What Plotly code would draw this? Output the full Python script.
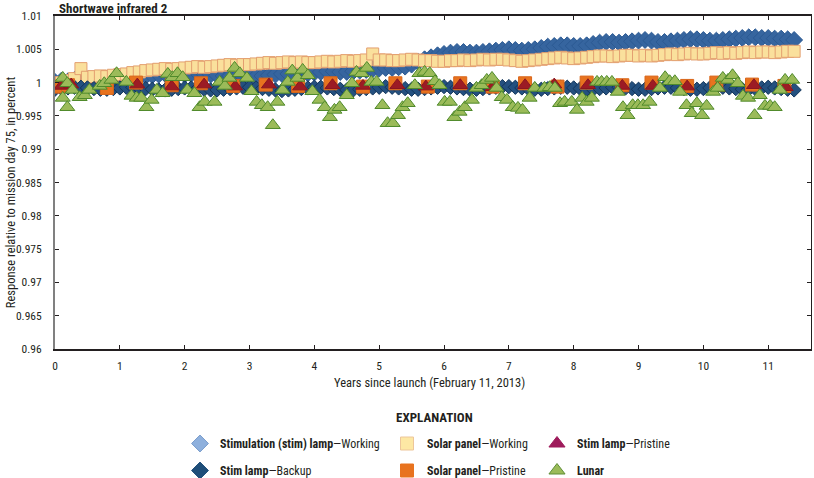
import plotly.graph_objects as go

FONT = "Liberation Sans Narrow, Arial Narrow, Roboto Condensed, Roboto, sans-serif"
INK = "#231F20"

# ---------------- data ----------------
dense_years = [round(i * 0.1, 1) for i in range(115)]  # sample times, 0.0 .. 11.4

stim_working = [
    1.0001, 1.0003, 1.0002, 1.0004, 1.0003, 1.0005, 1.0004, 1.0006, 1.0005, 1.0007,
    1.0006, 1.0008, 1.0007, 1.0009, 1.0010, 1.0011, 1.0012, 1.0013, 1.0012, 1.0013,
    1.0012, 1.0013, 1.0014, 1.0013, 1.0012, 1.0011, 1.0010, 1.0010, 1.0009, 1.0009,
    1.0008, 1.0009, 1.0010, 1.0011, 1.0012, 1.0013, 1.0013, 1.0012, 1.0013, 1.0014,
    1.0015, 1.0016, 1.0017, 1.0017, 1.0016, 1.0016, 1.0017, 1.0018, 1.0019, 1.0020,
    1.0021, 1.0022, 1.0022, 1.0023, 1.0024, 1.0027, 1.0031, 1.0035, 1.0038, 1.0041,
    1.0043, 1.0045, 1.0046, 1.0046, 1.0045, 1.0045, 1.0046, 1.0047, 1.0048, 1.0049,
    1.0050, 1.0049, 1.0048, 1.0049, 1.0050, 1.0052, 1.0054, 1.0055, 1.0056, 1.0056,
    1.0055, 1.0055, 1.0056, 1.0058, 1.0060, 1.0061, 1.0061, 1.0060, 1.0061, 1.0062,
    1.0063, 1.0064, 1.0063, 1.0061, 1.0061, 1.0062, 1.0063, 1.0064, 1.0065, 1.0065,
    1.0064, 1.0063, 1.0063, 1.0064, 1.0065, 1.0066, 1.0067, 1.0068, 1.0068, 1.0067,
    1.0067, 1.0066, 1.0066, 1.0065, 1.0064,
]

solar_working = [
    0.9998, 1.0000, 1.0003, 1.0006, 1.0021, 1.0008, 1.0009, 1.0010, 1.0009, 1.0011,
    1.0012, 1.0013, 1.0015, 1.0016, 1.0018, 1.0019, 1.0020, 1.0021, 1.0020, 1.0021,
    1.0022, 1.0023, 1.0024, 1.0023, 1.0024, 1.0025, 1.0026, 1.0027, 1.0026, 1.0027,
    1.0027, 1.0028, 1.0029, 1.0030, 1.0029, 1.0030, 1.0031, 1.0030, 1.0031, 1.0030,
    1.0030, 1.0031, 1.0032, 1.0031, 1.0032, 1.0033, 1.0032, 1.0033, 1.0034, 1.0043,
    1.0034, 1.0034, 1.0033, 1.0033, 1.0034, 1.0035, 1.0034, 1.0033, 1.0033, 1.0032,
    1.0032, 1.0033, 1.0033, 1.0034, 1.0033, 1.0034, 1.0035, 1.0034, 1.0035, 1.0035,
    1.0034, 1.0033, 1.0032, 1.0033, 1.0034, 1.0035, 1.0036, 1.0037, 1.0038, 1.0037,
    1.0036, 1.0037, 1.0038, 1.0039, 1.0040, 1.0040, 1.0039, 1.0040, 1.0041, 1.0041,
    1.0040, 1.0041, 1.0040, 1.0041, 1.0042, 1.0043, 1.0042, 1.0043, 1.0044, 1.0043,
    1.0043, 1.0044, 1.0045, 1.0044, 1.0045, 1.0044, 1.0045, 1.0046, 1.0045, 1.0046,
    1.0046, 1.0045, 1.0046, 1.0047, 1.0047,
]

stim_backup = [
    0.9990, 0.9991, 0.9992, 0.9993, 0.9993, 0.9992, 0.9991, 0.9990, 0.9990, 0.9991,
    0.9992, 0.9993, 0.9993, 0.9992, 0.9991, 0.9990, 0.9989, 0.9989, 0.9990, 0.9991,
    0.9992, 0.9992, 0.9991, 0.9990, 0.9989, 0.9989, 0.9990, 0.9991, 0.9992, 0.9993,
    0.9993, 0.9992, 0.9991, 0.9990, 0.9989, 0.9988, 0.9989, 0.9990, 0.9991, 0.9992,
    0.9993, 0.9993, 0.9992, 0.9991, 0.9990, 0.9989, 0.9989, 0.9990, 0.9991, 0.9992,
    0.9993, 0.9994, 0.9993, 0.9992, 0.9991, 0.9990, 0.9990, 0.9991, 0.9992, 0.9993,
    0.9994, 0.9993, 0.9992, 0.9991, 0.9990, 0.9990, 0.9991, 0.9992, 0.9993, 0.9994,
    0.9994, 0.9993, 0.9992, 0.9991, 0.9990, 0.9990, 0.9991, 0.9992, 0.9993, 0.9993,
    0.9992, 0.9991, 0.9990, 0.9990, 0.9991, 0.9992, 0.9993, 0.9993, 0.9992, 0.9991,
    0.9990, 0.9990, 0.9991, 0.9992, 0.9993, 0.9993, 0.9992, 0.9991, 0.9990, 0.9990,
    0.9991, 0.9992, 0.9993, 0.9993, 0.9992, 0.9991, 0.9990, 0.9990, 0.9991, 0.9992,
    0.9993, 0.9992, 0.9991, 0.9990, 0.9989,
]

solar_pristine_years = [0.05, 0.2, 0.8, 1.25, 1.8, 2.25, 2.75, 3.25, 3.75, 4.25, 4.75, 5.25,
                        5.75, 6.25, 6.75, 7.25, 7.75, 8.2, 8.75, 9.2, 9.75, 10.2, 10.75, 11.25]
solar_pristine = [0.9994, 0.9996, 0.9992, 1.0000, 0.9996, 0.9999, 0.9995, 0.9997, 0.9995, 0.9999,
                  0.9994, 0.9999, 0.9994, 0.9999, 0.9994, 0.9999, 0.9994, 1.0000, 0.9996, 1.0000,
                  0.9995, 1.0000, 0.9997, 0.9995]

stim_pristine_years = [0.1, 0.25, 1.27, 1.8, 2.3, 2.78, 3.3, 3.78, 4.28, 4.75, 5.28, 5.72,
                       6.25, 6.75, 7.25, 7.7, 8.22, 8.75, 9.22, 9.75, 10.22, 10.78, 11.27]
stim_pristine = [0.9995, 0.9997, 0.9997, 0.9994, 0.9997, 0.9994, 0.9997, 0.9994, 0.9996, 0.9995,
                 0.9996, 0.9994, 0.9996, 0.9993, 0.9996, 0.9997, 0.9996, 0.9995, 0.9995, 0.9994,
                 0.9992, 0.9996, 0.9993]

lunar_years = [
    0.12, 0.19, 0.12, 0.19, 0.27, 0.38, 0.46, 0.53, 0.69, 0.76, 0.87, 0.95, 1.10, 1.18, 1.26,
    1.33, 1.41, 1.49, 1.57, 1.66, 1.74, 1.81, 1.89, 1.97, 2.04, 2.15, 2.23, 2.31, 2.46, 2.54,
    2.62, 2.69, 2.77, 2.85, 2.96, 3.03, 3.11, 3.19, 3.28, 3.36, 3.43, 3.51, 3.59, 3.66,
    3.74, 3.82, 3.90, 3.97, 4.08, 4.16, 4.24, 4.31, 4.39, 4.50, 4.58, 4.65, 4.73, 4.81, 4.88,
    4.96, 5.05, 5.13, 5.21, 5.29, 5.36, 5.44, 5.55, 5.62, 5.70, 5.78, 5.86, 5.93, 6.01, 6.09,
    6.16, 6.24, 6.32, 6.43, 6.50, 6.58, 6.66, 6.74, 6.81, 6.89, 6.97, 7.06, 7.14, 7.21, 7.32, 7.40,
    7.55, 7.63, 7.71, 7.79, 7.86, 7.97, 8.05, 8.13, 8.20, 8.28, 8.36, 8.43, 8.51, 8.59, 8.68,
    8.76, 8.83, 8.91, 8.99, 9.07, 9.17, 9.33, 9.41, 9.48, 9.56, 9.64, 9.74, 9.82, 9.90, 9.98,
    10.05, 10.15, 10.22, 10.30, 10.38, 10.45, 10.53, 10.61, 10.69, 10.79, 10.87, 10.95, 11.03,
    11.10, 11.18, 11.26, 11.37,
]
lunar = [
    1.0007, 0.9999, 0.9977, 0.9963, 0.9989, 0.9978, 0.9981, 0.9989, 0.9995, 0.9999, 1.0004, 1.0014, 1.0001, 0.9980, 0.9977,
    0.9977, 0.9963, 0.9974, 0.9989, 0.9984, 1.0013, 1.0008, 1.0014, 1.0008, 0.9989, 0.9984, 0.9963, 0.9971, 0.9971, 1.0001,
    0.9995, 1.0007, 1.0022, 1.0014, 1.0007, 0.9987, 0.9971, 0.9966, 0.9963, 0.9936, 0.9971, 0.9989, 1.0001, 1.0018,
    1.0007, 1.0019, 1.0011, 0.9987, 0.9974, 0.9963, 0.9948, 0.9959, 0.9963, 0.9981, 0.9999, 1.0016, 1.0014, 1.0022, 1.0001,
    1.0001, 0.9966, 0.9939, 0.9939, 0.9951, 0.9963, 0.9969, 0.9996, 1.0014, 1.0016, 1.0014, 1.0002, 0.9996, 0.9971, 0.9971,
    0.9948, 0.9956, 0.9963, 0.9974, 0.9992, 0.9996, 1.0004, 1.0007, 0.9992, 0.9978, 0.9974, 0.9963, 0.9962, 0.9959, 0.9977, 0.9992,
    0.9992, 0.9993, 0.9992, 0.9969, 0.9971, 0.9971, 0.9959, 0.9977, 0.9971, 0.9977, 1.0001, 1.0001, 1.0001, 1.0001, 0.9986,
    0.9963, 0.9951, 0.9966, 0.9966, 0.9966, 0.9971, 0.9992, 1.0008, 1.0002, 1.0002, 0.9986, 0.9966, 0.9954, 0.9969, 0.9951,
    0.9965, 0.9986, 0.9992, 1.0007, 1.0004, 1.0011, 0.9999, 0.9980, 0.9977, 0.9951, 0.9981, 0.9965, 0.9965,
    0.9963, 0.9989, 1.0004, 1.0004,
]

x_tick_vals = [0, 1, 2, 3, 4, 5, 6, 7, 8, 9, 10, 11]
y_tick_vals = [0.96, 0.965, 0.97, 0.975, 0.98, 0.985, 0.99, 0.995, 1.0, 1.005, 1.01]
y_tick_text = ["0.96", "0.965", "0.97", "0.975", "0.98", "0.985", "0.99", "0.995", "1", "1.005", "1.01"]

legend_names = {
    "sw": "<b>Stimulation (stim) lamp</b>—Working",
    "sb": "<b>Stim lamp</b>—Backup",
    "pw": "<b>Solar panel</b>—Working",
    "pp": "<b>Solar panel</b>—Pristine",
    "sp": "<b>Stim lamp</b>—Pristine",
    "lu": "<b>Lunar</b>",
}

# ---------------- figure ----------------
fig = go.Figure()

def data_trace(x, y, symbol, size, fill, edge, width=1):
    fig.add_trace(go.Scatter(
        x=x, y=y, mode="markers", showlegend=False, hoverinfo="skip",
        marker=dict(symbol=symbol, size=size, color=fill, line=dict(color=edge, width=width)),
    ))

data_trace(dense_years, stim_working, "diamond", 13, "#36659F", "#2C5A93")
data_trace(dense_years, solar_working, "square", 12, "#FAE09C", "#E39F70")
data_trace(dense_years, stim_backup, "diamond", 11, "#24507F", "#12355A")
data_trace(solar_pristine_years, solar_pristine, "square", 13, "#E8731F", "#D9661A")
data_trace(stim_pristine_years, stim_pristine, "triangle-up", 13, "#9C1B24", "#8A1620")
data_trace(lunar_years, lunar, "triangle-up", 13, "#9BBB59", "#4F8A2B")

def legend_trace(key, symbol, size, fill, edge, legend):
    fig.add_trace(go.Scatter(
        x=[None], y=[None], mode="markers", name=legend_names[key], legend=legend,
        legendgroup=key, hoverinfo="skip",
        marker=dict(symbol=symbol, size=size, color=fill, line=dict(color=edge, width=1)),
    ))

legend_trace("sw", "diamond", 13, "#8EB0DD", "#7A9DCC", "legend")
legend_trace("sb", "diamond", 13, "#1F4E79", "#1F4E79", "legend")
legend_trace("pw", "square", 13, "#FDE8A4", "#EDC69A", "legend2")
legend_trace("pp", "square", 13, "#E8731F", "#E8731F", "legend2")
legend_trace("sp", "triangle-up", 14, "#9E1B5B", "#9E1B5B", "legend3")
legend_trace("lu", "triangle-up", 14, "#9BBB59", "#5E8E36", "legend3")

# trace carrying the right-hand mirror axis
fig.add_trace(go.Scatter(x=[0, 1], y=[0.98, 0.98], yaxis="y2", mode="markers", showlegend=False,
                         hoverinfo="skip", marker=dict(opacity=0)))

leg_common = dict(
    xref="container", yref="container", xanchor="left", yanchor="top",
    orientation="v", bgcolor="rgba(0,0,0,0)", tracegroupgap=8,
    font=dict(family=FONT, size=12, color=INK), itemwidth=30,
)
fig.update_layout(
    legend=dict(x=180 / 814, y=1 - 429 / 478, **leg_common),
    legend2=dict(x=387 / 814, y=1 - 429 / 478, **leg_common),
    legend3=dict(x=537 / 814, y=1 - 429 / 478, **leg_common),
)

fig.update_layout(
    width=814, height=478,
    margin=dict(l=55, r=3, t=16, b=129, autoexpand=False),
    paper_bgcolor="white", plot_bgcolor="white",
    font=dict(family=FONT, size=11, color=INK),
    xaxis=dict(
        range=[0, 11.66], tickvals=x_tick_vals, ticks="inside", ticklen=4, tickcolor=INK,
        showline=True, linecolor=INK, linewidth=1.5, mirror="ticks", showgrid=False,
        zeroline=False, tickfont=dict(family=FONT, size=11.5, color=INK), ticklabelstandoff=5,
    ),
    yaxis=dict(
        range=[0.96, 1.01], tickvals=y_tick_vals, ticktext=y_tick_text, ticks="inside",
        ticklen=4, tickcolor=INK, showline=True, linecolor="#808080", linewidth=2,
        showgrid=False, zeroline=False, tickfont=dict(family=FONT, size=11.5, color=INK),
        ticklabelstandoff=9,
    ),
    yaxis2=dict(
        overlaying="y", side="right", range=[0.96, 1.01], tickvals=y_tick_vals,
        ticks="inside", ticklen=4, tickcolor=INK, showline=True, linecolor=INK, linewidth=1,
        showticklabels=False, showgrid=False, zeroline=False,
    ),
    annotations=[
        dict(text="<b>Shortwave infrared 2</b>", xref="paper", yref="paper", x=0.003, y=1.024,
             xanchor="left", yanchor="middle", showarrow=False,
             font=dict(family=FONT, size=13, color=INK)),
        dict(text="Response relative to mission day 75, in percent", xref="paper", yref="paper",
             x=-0.0595, y=0.471, textangle=-90, xanchor="center", yanchor="middle",
             showarrow=False, font=dict(family=FONT, size=12.5, color=INK)),
        dict(text="Years since launch (February 11, 2013)", xref="paper", yref="paper",
             x=0.496, y=-0.102, xanchor="center", yanchor="middle", showarrow=False,
             font=dict(family=FONT, size=12.5, color=INK)),
        dict(text="<b>EXPLANATION</b>", xref="paper", yref="paper", x=0.502, y=-0.207,
             xanchor="center", yanchor="middle", showarrow=False,
             font=dict(family=FONT, size=13, color=INK)),
    ],
)

fig.write_html("out.html", config={"displayModeBar": False},
               post_script="document.body.style.margin='0';")
